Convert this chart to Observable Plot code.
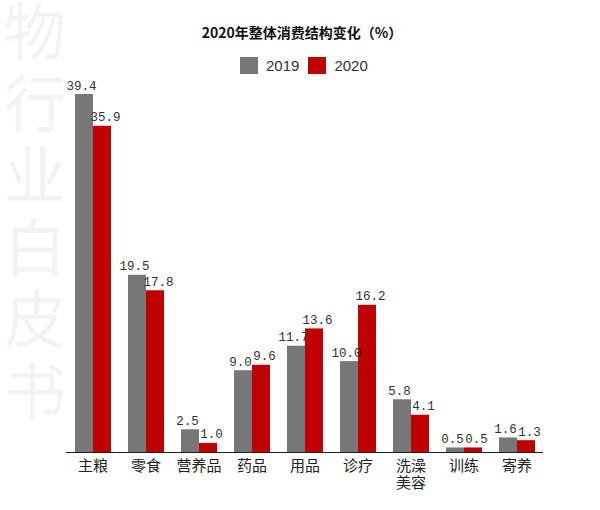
<!DOCTYPE html>
<html>
<head>
<meta charset="utf-8">
<script src="https://cdn.jsdelivr.net/npm/d3@7"></script>
<script src="https://cdn.jsdelivr.net/npm/@observablehq/plot@0.6"></script>
<style>
  html, body { margin: 0; padding: 0; background: #fff; }
  body { width: 600px; height: 510px; position: relative; overflow: hidden; font-family: "Noto Sans CJK SC", sans-serif; }
  #wm { position: absolute; left: 2px; top: 0px; writing-mode: vertical-rl; font-size: 62px; line-height: 66px; color: #f3f3f3; letter-spacing: 10px; font-family: "Noto Sans CJK SC", sans-serif; z-index: 0; }
  #head { position: relative; height: 76px; z-index: 1; }
  #title { position: absolute; left: 0; width: 604px; top: 22px; text-align: center; font-size: 14px; font-weight: bold; color: #111; }
  #legend { position: absolute; left: 240px; top: 57px; display: flex; align-items: center; font-family: "Liberation Sans", Arial, sans-serif; font-size: 15px; color: #333; }
  .sw { width: 18px; height: 17px; display: inline-block; }
  #chart { position: relative; z-index: 1; }
  #chart svg { background: transparent !important; }
</style>
</head>
<body>
<div id="wm">物行业白皮书</div>
<div id="head">
  <div id="title">2020年整体消费结构变化（%）</div>
  <div id="legend"></div>
</div>
<div id="chart"></div>
<script>
const categories = ["主粮", "零食", "营养品", "药品", "用品", "诊疗", "洗澡美容", "训练", "寄养"];
const tickLabels = ["主粮", "零食", "营养品", "药品", "用品", "诊疗", "洗澡\n美容", "训练", "寄养"];
const years = ["2019", "2020"];
const values2019 = [39.4, 19.5, 2.5, 9.0, 11.7, 10.0, 5.8, 0.5, 1.6];
const values2020 = [35.9, 17.8, 1.0, 9.6, 13.6, 16.2, 4.1, 0.5, 1.3];
const colors = ["#777777", "#c00000"];

const data = [];
categories.forEach((c, i) => {
  data.push({cat: c, year: years[0], value: values2019[i]});
  data.push({cat: c, year: years[1], value: values2020[i]});
});

const legend = document.getElementById("legend");
years.forEach((y, i) => {
  const sw = document.createElement("span");
  sw.className = "sw";
  sw.style.background = colors[i];
  sw.style.marginRight = "8px";
  legend.appendChild(sw);
  const t = document.createElement("span");
  t.textContent = y;
  t.style.marginRight = i === 0 ? "9px" : "0";
  legend.appendChild(t);
});

const labelMap = new Map(categories.map((c, i) => [c, tickLabels[i]]));
const labelStyle = {fx: "cat", x: "year", y: "value", text: d => d.value.toFixed(1), lineAnchor: "bottom", dy: -5,
  fontFamily: "Liberation Mono, DejaVu Sans Mono, monospace", fontSize: 12.5, fill: "#333"};

const chart = Plot.plot({
  width: 600,
  height: 434,
  marginLeft: 66,
  marginRight: 57,
  marginTop: 18,
  marginBottom: 58,
  style: {background: "transparent"},
  fx: {domain: categories, padding: 0, label: null, axis: null},
  x: {domain: years, axis: null, paddingInner: 0, paddingOuter: 0.43},
  y: {domain: [0, 39.4], axis: null},
  color: {domain: years, range: colors},
  marks: [
    Plot.barY(data, {fx: "cat", x: "year", y: "value", fill: "year"}),
    Plot.text(data.filter(d => d.year === years[0]), {...labelStyle, dx: -3}),
    Plot.text(data.filter(d => d.year === years[1]), {...labelStyle, dx: 3}),
    Plot.ruleY([0], {stroke: "#222", strokeWidth: 1.2}),
    Plot.axisFx({anchor: "bottom", tickSize: 0, tickPadding: 6, label: null, fontSize: 15, lineHeight: 1.15,
      tickFormat: d => labelMap.get(d), fill: "#222", fontFamily: "Noto Sans CJK SC, sans-serif"})
  ]
});
document.getElementById("chart").appendChild(chart);
</script>
</body>
</html>
